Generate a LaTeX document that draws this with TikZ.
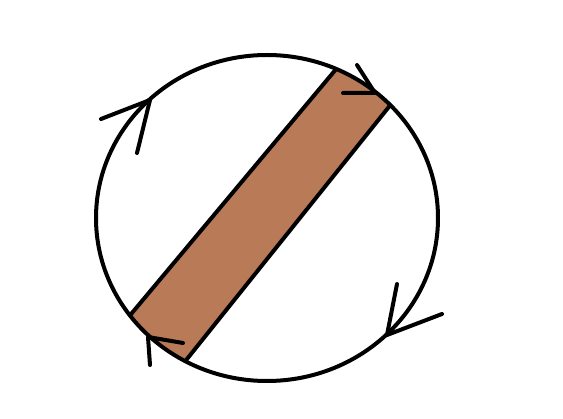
\documentclass[tikz,border=0pt]{standalone}
\definecolor{bandbrown}{RGB}{185,122,87}
\tikzset{
  outline/.style={line width=4pt, black},
  chevron/.style={line width=4pt, black, line cap=round, line join=round}
}
\begin{document}
\begin{tikzpicture}[x=1pt,y=-1pt]
\useasboundingbox (0,0) rectangle (563,419);
% band clipped to the circle
\begin{scope}
  \clip (267,218) ellipse [x radius=171, y radius=163];
  \fill[bandbrown] (91.8,361) -- (373,25) -- (428,58) -- (147,409) -- cycle;
  \draw[outline] (91.8,361) -- (373,25);
  \draw[outline] (147,409) -- (428,58);
\end{scope}
\draw[outline] (267,218) ellipse [x radius=171, y radius=163];
% chevrons
\coordinate (t1) at (150,100);
\draw[chevron] (101,119) -- (t1) -- (137,153);
\coordinate (t2) at (375,93);
\draw[chevron] (357,65) -- (t2) -- (343,93);
\coordinate (t3) at (148,337);
\draw[chevron] (183,343) -- (t3) -- (150,365);
\coordinate (t4) at (387,335);
\draw[chevron] (397,284) -- (t4) -- (442,314);
\end{tikzpicture}
\end{document}
